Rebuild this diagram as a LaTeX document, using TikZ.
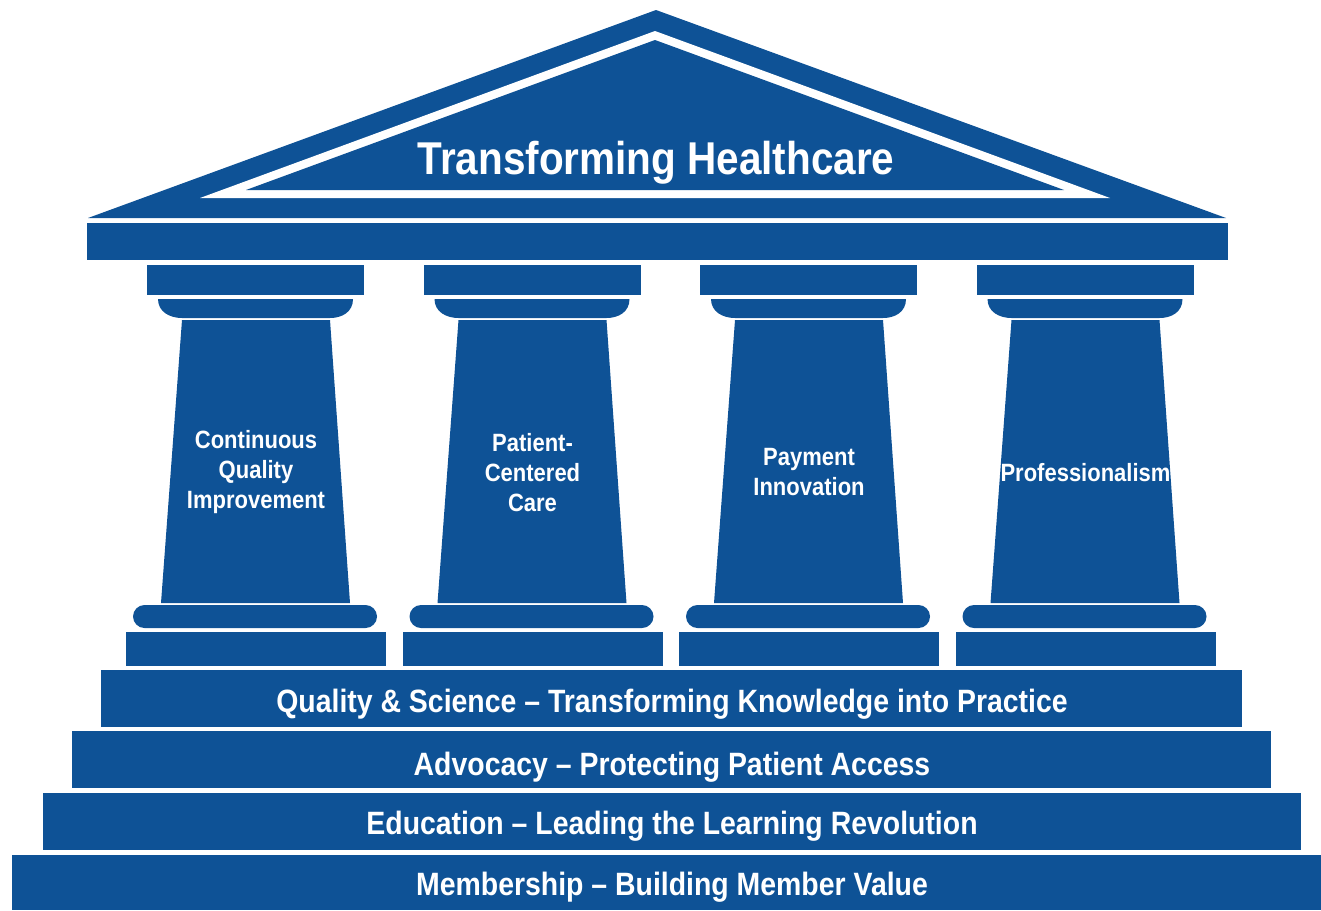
\documentclass[tikz,border=0pt]{standalone}
\usepackage{fontspec}
\setmainfont{Liberation Sans}[FakeStretch=0.88]
\usepackage{tikz}
\definecolor{templeblue}{RGB}{14,82,150}
\tikzstyle{Stone}=[fill=templeblue, draw=none]
\tikzstyle{Gap}=[fill=white, draw=none]
\tikzstyle{RoofText}=[text=white, anchor=base, font=\bfseries\fontsize{46}{50}\selectfont]
\tikzstyle{StepText}=[text=white, anchor=base, font=\bfseries\fontsize{32.3}{36}\selectfont]
\tikzstyle{PillarText}=[text=white, align=center, font=\bfseries\fontsize{25}{30}\selectfont]

\begin{document}
\begin{tikzpicture}[x=1pt, y=-1pt]
    \useasboundingbox (0,0) rectangle (1321,910);

    % roof and beam
    \fill[Stone] (88,218) -- (656,10) -- (1226,218) -- cycle;
    \fill[Gap] (200,198) -- (655,31) -- (1110,198) -- cycle;
    \fill[Stone] (246,190) -- (655,40) -- (1064,190) -- cycle;
    \fill[Stone] (87,223) rectangle (1228,260);
    \path (656,174) node[RoofText] (roof) {Transforming Healthcare};

    % pillars
    \foreach \c/\id/\txt in {256/cqi/{Continuous\\Quality\\Improvement},
                             532.5/pcc/{Patient-\\Centered\\Care},
                             809/pay/{Payment\\Innovation},
                             1085.5/prof/{Professionalism}} {
        \fill[Stone] (\c-109,265) rectangle (\c+108,295);
        \fill[Stone] (\c-98,299) -- (\c+97,299)
            .. controls (\c+97,312) and (\c+86,318) .. (\c+74,318) -- (\c-74,318)
            .. controls (\c-86,318) and (\c-98,312) .. (\c-98,299) -- cycle;
        \fill[Stone] (\c-74,320) -- (\c+74,320) -- (\c+94,603) -- (\c-95,603) -- cycle;
        \fill[Stone, rounded corners=11.5] (\c-123,605) rectangle (\c+121,628);
        \fill[Stone] (\c-130,632) rectangle (\c+130,666);
        \node[PillarText] (\id) at (\c,472.5) {\txt};
    }

    % steps
    \fill[Stone] (101,670) rectangle (1242,727);
    \fill[Stone] (72,731) rectangle (1271,788);
    \fill[Stone] (43,793) rectangle (1301,850);
    \fill[Stone] (12,855) rectangle (1321,910);
    \path
    (672,712) node[StepText] (quality) {Quality \& Science -- Transforming Knowledge into Practice}
    (672,775) node[StepText] (advocacy) {Advocacy -- Protecting Patient Access}
    (672,834) node[StepText] (education) {Education -- Leading the Learning Revolution}
    (672,895) node[StepText] (membership) {Membership -- Building Member Value};
\end{tikzpicture}
\end{document}
